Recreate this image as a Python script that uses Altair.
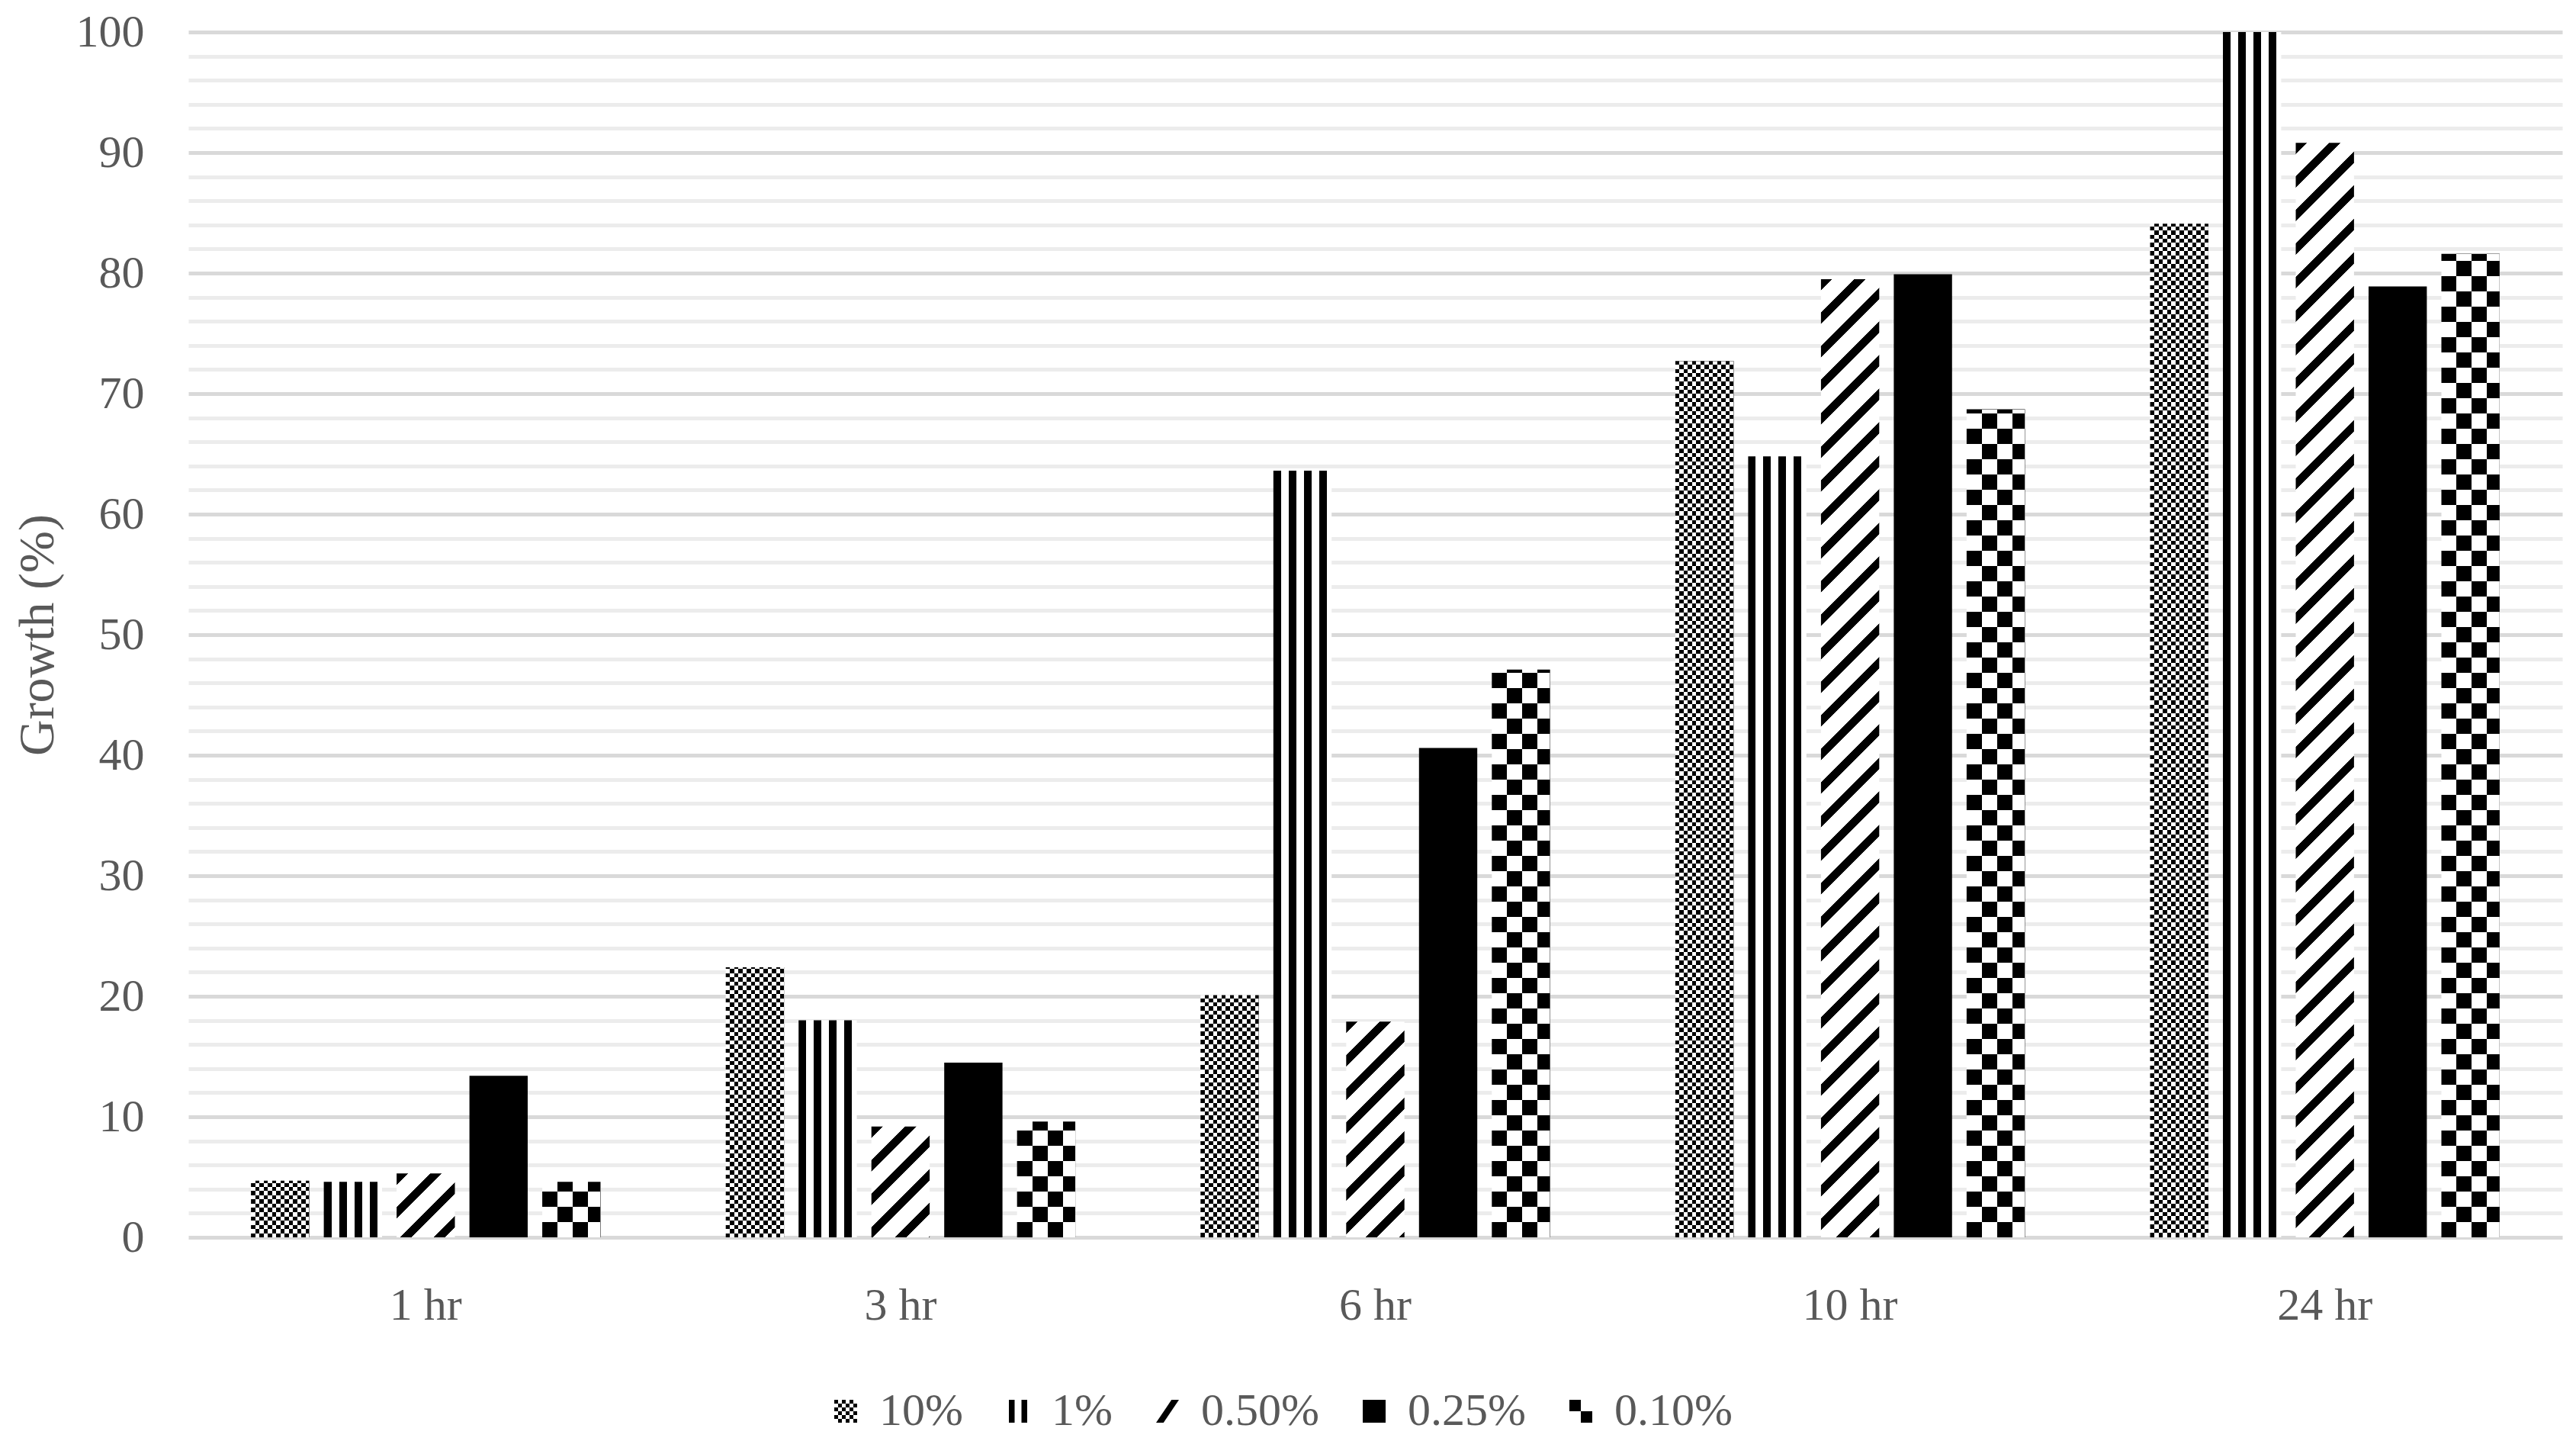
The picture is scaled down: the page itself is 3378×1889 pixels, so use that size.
import altair as alt

# ---------------- data ----------------
times = ["1 hr", "3 hr", "6 hr", "10 hr", "24 hr"]
series = ["10%", "1%", "0.50%", "0.25%", "0.10%"]
v_10 = [4.7, 22.4, 20.1, 72.7, 84.1]
v_1 = [4.6, 18.0, 63.6, 64.8, 100.0]
v_050 = [5.3, 9.2, 17.9, 79.5, 90.8]
v_025 = [13.4, 14.5, 40.6, 79.9, 78.9]
v_010 = [4.6, 9.6, 47.1, 68.7, 81.6]
values_by_series = [v_10, v_1, v_050, v_025, v_010]

# ---------------- layout ----------------
W, H = 3113, 1580
PAD_IN, PAD_OUT = 0.2, 0.86
FONT = "Liberation Serif"
GREY = "#595959"
step = (W / len(times)) / (len(series) - PAD_IN + 2 * PAD_OUT)
BW = step * (1 - PAD_IN)


def stripe_stops(length, period, on, first="#000000", second="#ffffff"):
    out = []
    pos = 0.0
    while pos < length:
        e = min(pos + on, length)
        out += [{"offset": round(pos / length, 5), "color": first},
                {"offset": round(e / length, 5), "color": first}]
        if e >= length:
            break
        e2 = min(pos + period, length)
        out += [{"offset": round(e / length, 5), "color": second},
                {"offset": round(e2 / length, 5), "color": second}]
        pos += period
    return out


def lin(x1, y1, x2, y2, stops):
    return {"gradient": "linear", "x1": x1, "y1": y1, "x2": x2, "y2": y2, "stops": stops}


def horiz(h, period, on):   # horizontal stripes, counted from bar bottom
    return lin(0, 1, 0, 0, stripe_stops(h, period, on))


def vert(w, period, on):    # vertical stripes
    return lin(0, 0, 1, 0, stripe_stops(w, period, on))


def diag(w, h, slope=1.0, period=44, on=15):
    k = (slope * w + h) / (slope * slope * w * w + h * h)
    return lin(0, 0, k * slope * w, k * h, stripe_stops(slope * w + h, period, on))


records = []
for s, vals in zip(series, values_by_series):
    for t, v in zip(times, vals):
        h = max(v * H / 100.0, 1.0)
        rec = {"time": t, "series": s, "value": v}
        if s == "10%":
            rec["g1"] = horiz(h, 11, 5.5)
            rec["g2"] = vert(BW, 11, 5.5)
        elif s == "1%":
            rec["g1"] = vert(BW, 20, 10)
        elif s == "0.50%":
            rec["g1"] = diag(BW, h)
        elif s == "0.25%":
            rec["g1"] = "#000000"
        else:
            rec["g1"] = horiz(h, 40, 20)
            rec["g2"] = vert(BW, 40, 20)
        records.append(rec)


def checker_path(n):
    c = 2.0 / n
    parts = []
    for i in range(n):
        for j in range(n):
            if (i + j) % 2 == 0:
                x = -1 + i * c
                y = -1 + j * c
                parts.append(f"M{x:.3f},{y:.3f}h{c:.3f}v{c:.3f}h{-c:.3f}Z")
    return "".join(parts)


legend_paths = [
    checker_path(6),
    "M-0.8,-1H-0.3V1H-0.8Z M0.3,-1H0.8V1H0.3Z",
    "M0.35,-1L1,-1L-0.35,1L-1,1Z",
    "M-1,-1H1V1H-1Z",
    "M-1,-1H0V0H-1Z M0,0H1V1H0Z",
]

x_enc = alt.X(
    "time:N", sort=times,
    scale=alt.Scale(domain=times, paddingInner=0, paddingOuter=0),
    axis=alt.Axis(title=None, labelAngle=0, ticks=False, domain=False, grid=False,
                  labelFont=FONT, labelFontSize=60, labelColor=GREY, labelPadding=60),
)
xo_enc = alt.XOffset(
    "series:N", sort=series,
    scale=alt.Scale(domain=series, paddingInner=PAD_IN, paddingOuter=PAD_OUT),
)
y_enc = alt.Y(
    "value:Q", stack=None,
    scale=alt.Scale(domain=[0, 100], nice=False),
    axis=alt.Axis(
        values=list(range(0, 101, 2)),
        labelExpr="datum.value % 10 === 0 ? datum.label : ''",
        labelOverlap=False,
        grid=True,
        gridColor={"condition": {"test": "datum.value % 10 === 0", "value": "#d9d9d9"},
                   "value": "#ececec"},
        gridWidth=5,
        ticks=False, domain=False,
        labelFont=FONT, labelFontSize=60, labelColor=GREY, labelPadding=58,
        title="Growth (%)", titleFont=FONT, titleFontSize=66, titleColor=GREY,
        titleFontWeight="normal", titleX=-198, titleY=H / 2, titleAngle=-90,
        titleAlign="center", titleBaseline="middle",
    ),
)

bars = alt.Chart().mark_bar().encode(
    x=x_enc, xOffset=xo_enc, y=y_enc,
    fill=alt.Fill("g1:N", scale=None, legend=None),
)

overlay = alt.Chart().transform_filter("isValid(datum.g2)").mark_bar(blend="difference").encode(
    x=x_enc, xOffset=xo_enc, y=y_enc,
    fill=alt.Fill("g2:N", scale=None, legend=None),
)

legend_layer = alt.Chart().transform_filter("false").mark_point(
    filled=True, color="black", opacity=1, size=900
).encode(
    shape=alt.Shape(
        "series:N",
        scale=alt.Scale(domain=series, range=legend_paths),
        legend=alt.Legend(
            title=None, orient="none", direction="horizontal",
            legendX=832, legendY=1778,
            symbolSize=900, symbolFillColor="black", symbolStrokeWidth=0,
            symbolOpacity=1,
            labelFont=FONT, labelFontSize=60, labelColor=GREY, labelLimit=0,
            labelOffset=14, columnPadding=42, padding=0,
        ),
    )
)

chart = alt.layer(bars, overlay, legend_layer, data=alt.Data(values=records)).properties(
    width=W, height=H,
    padding={"left": 239, "top": 34, "right": 6, "bottom": 258},
    autosize=alt.AutoSizeParams(type="none"),
    background="white",
).configure_view(stroke=None)

chart.save("out.html", embed_options={"renderer": "svg", "actions": False})
